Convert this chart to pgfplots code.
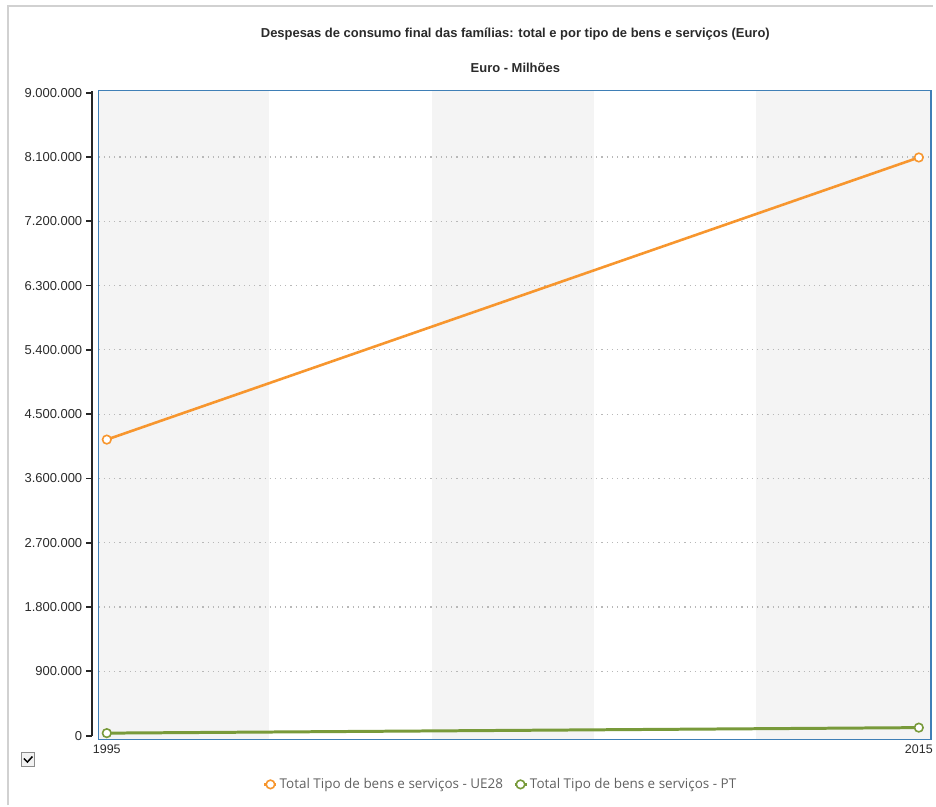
\documentclass[border=0pt]{standalone}
\usepackage{pgfplots}
\pgfplotsset{compat=1.18}
\usepackage{fontspec}
\setmainfont{Liberation Sans}
\newfontfamily\legfont{Open Sans}
\definecolor{ue}{HTML}{F7962E}
\definecolor{ptc}{HTML}{789A3A}
\definecolor{frameblue}{HTML}{3F7FB6}
\definecolor{band}{HTML}{F4F4F4}
\definecolor{txt}{HTML}{2A2A2A}
\begin{document}
\begin{tikzpicture}[x=1pt,y=1pt]
\draw[black!18, line width=1.2pt] (8,0) -- (8,802) -- (936,802);
\node[font=\fontsize{13}{15}\selectfont\bfseries, text=txt] at (517,774) {Despesas de consumo final das famílias: total e por tipo de bens e serviços (Euro)};
\node[font=\fontsize{13}{15}\selectfont\bfseries, text=txt] at (517,740) {Euro - Milhões};
% checkbox
\draw[black!45, line width=0.8pt, fill=black!5] (21,39) rectangle (35,53);
\draw[black, line width=1.5pt] (24,47) -- (27.5,43.5) -- (32.5,49);
\begin{axis}[
  set layers,
  at={(99pt,66pt)}, anchor=south west,
  scale only axis, width=835pt, height=651pt,
  xmin=1994.8, xmax=2015.3,
  ymin=-55800, ymax=9027900,
  axis line style={frameblue, line width=1.6pt},
  xtick={1995,2015},
  xticklabel style={font=\fontsize{12.5}{14}\selectfont, text=txt, yshift=-2pt, /pgf/number format/1000 sep={}},
  ytick={0,900000,...,9000000},
  scaled y ticks=false,
  minor ytick={900000,1800000,...,8100000},
  yminorgrids,
  minor grid style={black!28, line width=1.1pt, dash pattern=on 1.2pt off 4pt},
  major tick length=0pt, minor tick length=0pt,
  yticklabel style={font=\fontsize{13}{15}\selectfont, text=txt, xshift=-13pt, /pgf/number format/fixed, /pgf/number format/1000 sep={.}},
  /pgf/number format/assume math mode=true,
  clip=false,
  legend columns=2,
  legend style={at={(0.483,-0.069)}, anchor=center, draw=none, fill=none,
    font=\legfont\fontsize{13.5}{16}\selectfont, text=black!62,
    /tikz/every even column/.append style={column sep=8pt}},
  legend image code/.code={\draw[mark repeat=2,mark phase=2] plot coordinates {(0pt,0pt)(6pt,0pt)(12pt,0pt)};},
]
\begin{pgfonlayer}{axis background}
\fill[band] (axis cs:1994.8,-55800) rectangle (axis cs:1999,9027900);
\fill[band] (axis cs:2003,-55800) rectangle (axis cs:2007,9027900);
\fill[band] (axis cs:2011,-55800) rectangle (axis cs:2015.3,9027900);
\end{pgfonlayer}
\draw[black!85, line width=1.8pt] ([xshift=-7pt]axis cs:1994.8,0) -- ([xshift=-7pt]axis cs:1994.8,9027900);
\pgfplotsinvokeforeach{0,900000,1800000,2700000,3600000,4500000,5400000,6300000,7200000,8100000,9000000}{
  \draw[black!85, line width=1.8pt] ([xshift=-7pt]axis cs:1994.8,#1) -- ([xshift=-13pt]axis cs:1994.8,#1);
}
\addplot[ue, line width=2.6pt, mark=*, mark size=4.3pt, mark options={fill=white, draw=ue, line width=1.6pt}]
  coordinates {(1995,4144000) (2015,8093000)};
\addlegendentry{Total Tipo de bens e serviços - UE28}
\addplot[ptc, line width=3pt, mark=*, mark size=4.3pt, mark options={fill=white, draw=ptc, line width=1.6pt}]
  coordinates {(1995,35000) (2015,112000)};
\addlegendentry{Total Tipo de bens e serviços - PT}
\end{axis}
\path (0,0) rectangle (936,808);
\end{tikzpicture}
\end{document}
